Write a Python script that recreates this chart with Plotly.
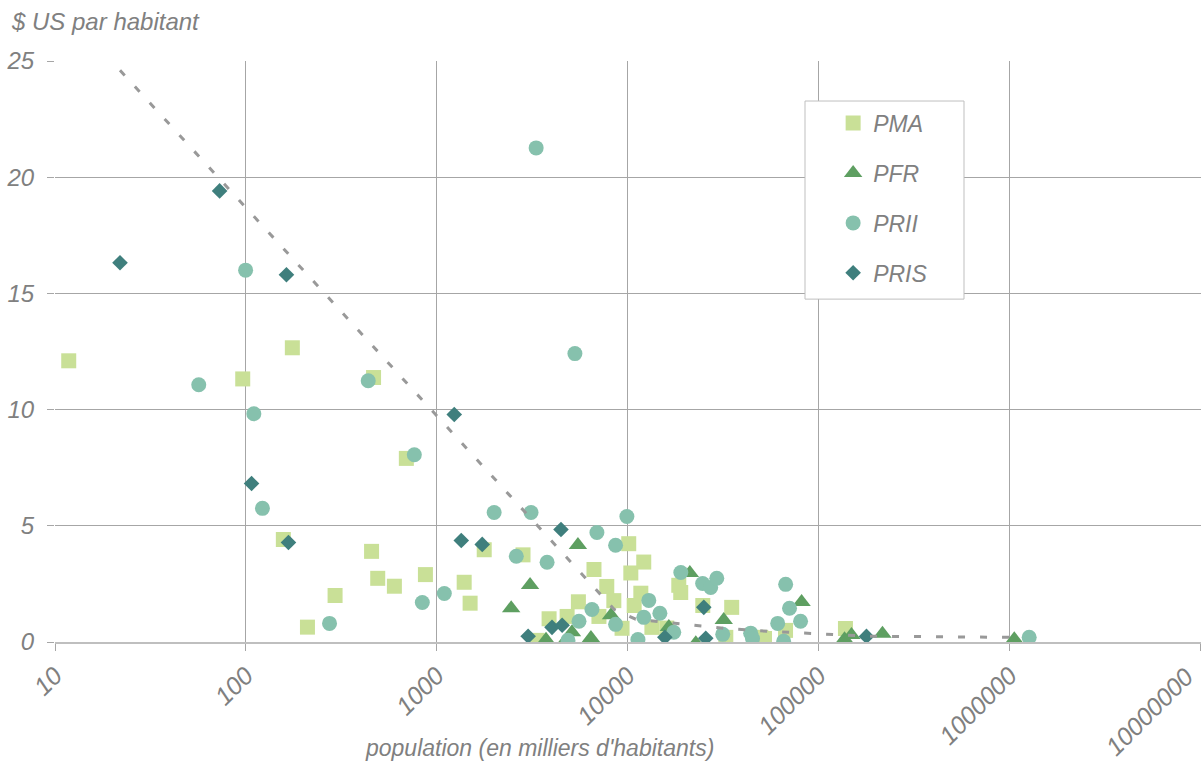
import plotly.graph_objects as go

# Population (thousands of inhabitants) and US$ per inhabitant, by group
pma_pop = [11.8, 96.2, 157, 175, 210, 293, 455, 466, 490, 599, 692, 871, 1390, 1493, 1770,
           2826, 3350, 3870, 4810, 5510, 6650, 7060, 7760, 8450, 9330, 10110, 10370, 10800,
           11700, 12120, 13370, 16000, 18490, 18930, 24700, 32600, 35000, 49700, 52000,
           67000, 138000]
pma_val = [12.1, 11.32, 4.41, 12.66, 0.64, 2.0, 3.9, 11.38, 2.74, 2.4, 7.9, 2.9, 2.57, 1.67,
           3.97, 3.75, 0.07, 1.0, 1.1, 1.73, 3.12, 1.1, 2.39, 1.78, 0.59, 4.23, 2.97, 1.57,
           2.1, 3.44, 0.63, 0.6, 2.44, 2.13, 1.57, 0.2, 1.49, 0.2, 0.15, 0.5, 0.58]

pfr_pop = [2450, 3077, 3730, 4660, 5100, 5480, 6410, 8170, 16400, 21130, 22700, 31800,
           81300, 136500, 148400, 215600, 1057000]
pfr_val = [1.45, 2.45, 0.1, 0.0, 0.42, 4.17, 0.17, 1.15, 0.65, 2.97, -0.05, 0.95,
           1.72, 0.12, 0.3, 0.35, 0.12]

prii_pop = [56.6, 99.6, 110, 122, 274, 437, 762, 839, 1094, 1995, 2606, 3113, 3311, 3778,
            4860, 5284, 5550, 6490, 6890, 8630, 8630, 9890, 11300, 12130, 12880, 14720,
            17400, 18950, 24660, 27170, 29240, 31420, 44000, 45000, 60950, 65500, 67100,
            70300, 80300, 1265000]
prii_val = [11.07, 16.0, 9.82, 5.75, 0.8, 11.24, 8.06, 1.7, 2.09, 5.57, 3.69, 5.57, 21.26,
            3.43, 0.07, 12.41, 0.89, 1.4, 4.71, 4.16, 0.76, 5.4, 0.11, 1.06, 1.79, 1.24,
            0.42, 2.99, 2.52, 2.35, 2.74, 0.33, 0.38, 0.15, 0.8, 0.03, 2.48, 1.45, 0.89, 0.2]

pris_pop = [21.9, 72.8, 107, 163, 167, 1233, 1342, 1728, 3006, 4008, 4467, 4530, 15630,
            25000, 25600, 177800]
pris_val = [16.32, 19.41, 6.82, 15.8, 4.28, 9.79, 4.37, 4.2, 0.25, 0.63, 4.84, 0.72, 0.2,
            1.49, 0.16, 0.24]

# Trend curve
trend_pop = [21.9, 8500, 11000, 18700, 31800, 54000, 91700, 180000, 1050000]
trend_val = [24.6, 1.4, 0.98, 0.8, 0.59, 0.46, 0.37, 0.25, 0.2]

x_ticks = [10, 100, 1000, 10000, 100000, 1000000, 10000000]
x_tick_text = [str(v) for v in x_ticks]
y_ticks = [0, 5, 10, 15, 20, 25]

GREY_TXT = "#808080"
FONT = "Liberation Sans"

series = [
    ("PMA", pma_pop, pma_val, "square", 15, "#C9E097"),
    ("PFR", pfr_pop, pfr_val, "triangle-up", 16, "#5E9F61"),
    ("PRII", prii_pop, prii_val, "circle", 15, "#86C1AD"),
    ("PRIS", pris_pop, pris_val, "diamond", 12, "#3F7F7D"),
]

fig = go.Figure()
for name, xs, ys, sym, size, col in series:
    fig.add_trace(go.Scatter(
        x=xs, y=ys, mode="markers", name=name, legendgroup=name,
        marker=dict(symbol=sym, size=size, color=col, line=dict(width=0)),
    ))

fig.add_trace(go.Scatter(
    x=trend_pop, y=trend_val, mode="lines", showlegend=False,
    line=dict(color="#999999", width=3, dash="7px,15px"),
))

tick_font = dict(family=FONT, size=25, color=GREY_TXT, style="italic")

fig.update_layout(
    width=1201, height=765,
    margin=dict(l=55, r=0, t=61, b=123),
    paper_bgcolor="white", plot_bgcolor="white",
    font=dict(family=FONT, color=GREY_TXT, size=22, style="italic"),
    showlegend=True,
    legend=dict(
        x=0.679, y=0.93, xanchor="left", yanchor="top",
        bgcolor="rgba(0,0,0,0)", borderwidth=0,
        font=dict(family=FONT, size=23, color=GREY_TXT, style="italic"),
        tracegroupgap=17, itemsizing="trace",
    ),
    shapes=[dict(
        type="rect", xref="paper", yref="paper",
        x0=(805 - 55) / 1146, x1=(964 - 55) / 1146,
        y0=(641.7 - 299) / 580.7, y1=(641.7 - 101) / 580.7,
        line=dict(color="#BFBFBF", width=1), fillcolor="white", layer="above",
    )],
    annotations=[
        dict(text="$ US par habitant", xref="paper", yref="paper",
             x=(9 - 55) / 1146, y=(641.7 - 22) / 580.7, xanchor="left", yanchor="middle",
             showarrow=False, font=dict(family=FONT, size=24, color=GREY_TXT, style="italic")),
        dict(text="population (en milliers d'habitants)", xref="paper", yref="paper",
             x=(539 - 55) / 1146, y=(641.7 - 748) / 580.7, xanchor="center", yanchor="middle",
             showarrow=False, font=dict(family=FONT, size=23, color=GREY_TXT, style="italic")),
        # last decade label, kept inside the page at the right edge
        dict(text=x_tick_text[-1], xref="paper", yref="paper", textangle=-45,
             x=1.0, y=(641.7 - 660) / 580.7, xanchor="right", yanchor="top",
             showarrow=False, font=tick_font),
    ],
)

fig.update_xaxes(
    type="log", range=[1, 7.002], tickvals=x_ticks,
    ticktext=x_tick_text[:-1] + [""], tickangle=-45,
    showgrid=True, gridcolor="#A6A6A6", gridwidth=1,
    showline=True, linecolor="#BFBFBF", linewidth=2,
    ticks="outside", ticklen=7, tickcolor="#A6A6A6",
    automargin=False, tickfont=tick_font, zeroline=False,
)
fig.update_yaxes(
    range=[0, 25], tickvals=y_ticks,
    showgrid=True, gridcolor="#A6A6A6", gridwidth=1,
    showline=False, ticks="outside", ticklen=7, tickcolor="#A6A6A6",
    ticklabelstandoff=8, automargin=False,
    tickfont=dict(family=FONT, size=24, color=GREY_TXT, style="italic"),
    zeroline=False,
)

fig.write_html("out.html")
